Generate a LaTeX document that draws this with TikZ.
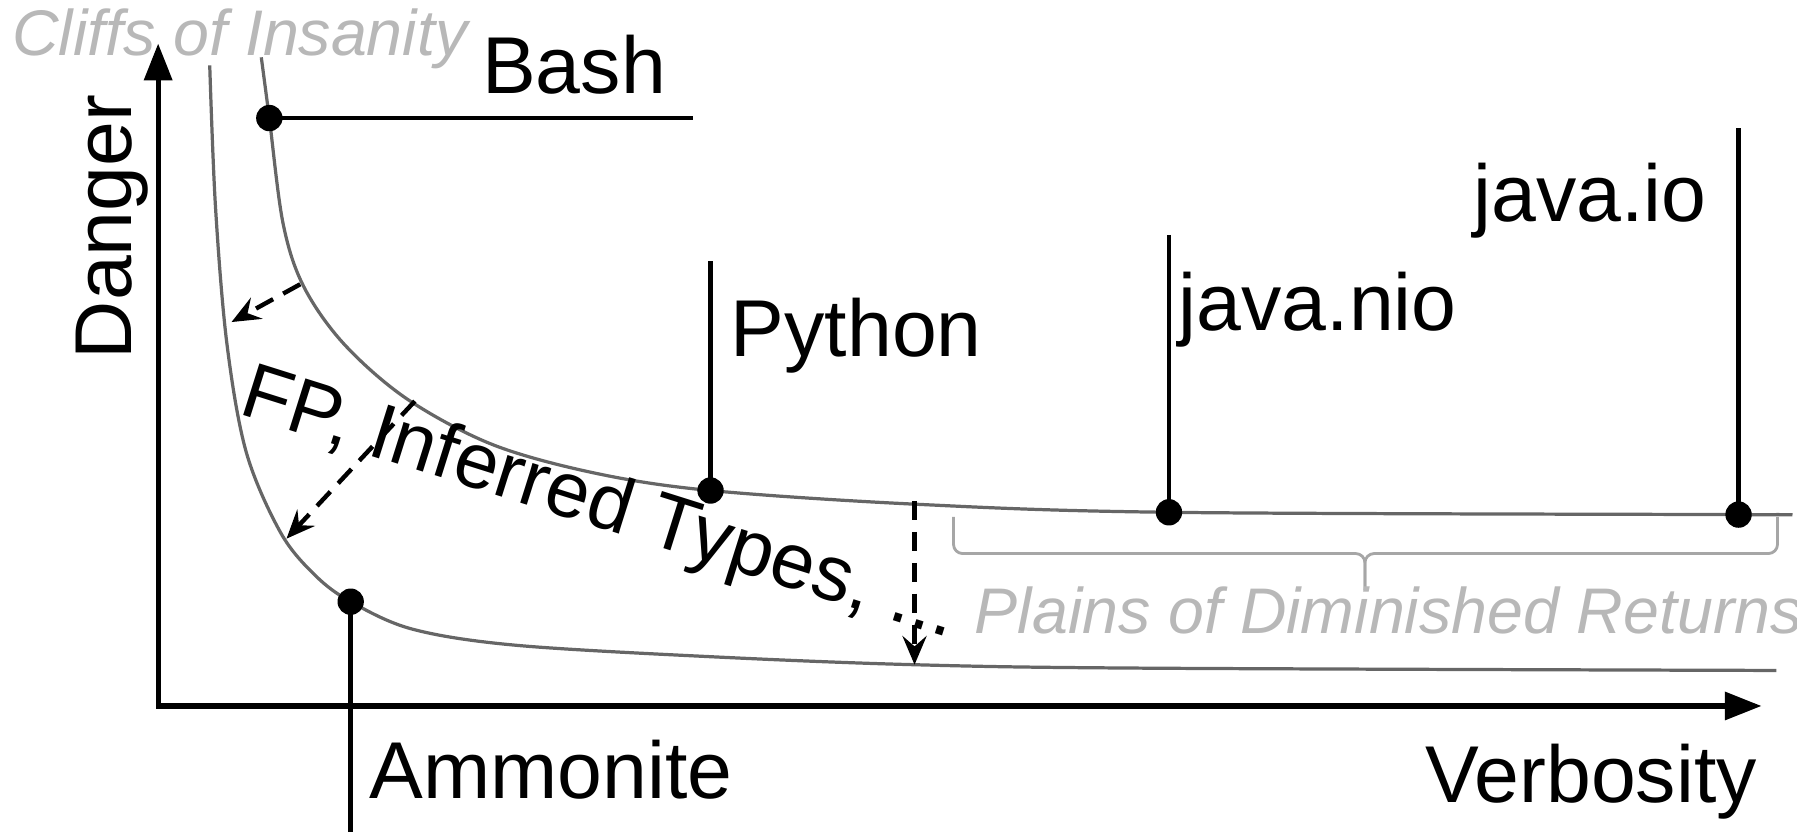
\documentclass[tikz,border=0pt]{standalone}
\usepackage{fontspec}
\setmainfont{Liberation Sans}
\usetikzlibrary{arrows.meta}

\begin{document}
\begin{tikzpicture}[>={Stealth[length=2.5mm,width=2.1mm,inset=0.9mm]}, x=0.01cm, y=-0.01cm,
	lbl/.style={inner sep=0pt, anchor=base west, font=\fontsize{20}{24}\selectfont},
	zone/.style={inner sep=0pt, anchor=base west, text=zoneg, font=\fontsize{16}{19}\selectfont\itshape},
	curv/.style={draw=curveg, line width=0.8pt},
	pin/.style={line width=1.2pt},
	push/.style={->, line width=1.1pt, dash pattern=on 1.7mm off 1mm},
	bracey/.style={draw=braceg, line width=0.7pt, rounded corners=0.8mm}]
			\definecolor{curveg}{rgb}{0.4,0.4,0.4}
			\definecolor{zoneg}{rgb}{0.72,0.72,0.72}
			\definecolor{braceg}{rgb}{0.65,0.65,0.65}

			\useasboundingbox (0,0) rectangle (1568,726);

			\coordinate (bash) at (235,103);
			\coordinate (python) at (620,428);
			\coordinate (nio) at (1020,447);
			\coordinate (io) at (1517,449);
			\coordinate (amm) at (306,525);
			\coordinate (origin) at (138,616);
			\coordinate (ytop) at (138,38);
			\coordinate (xend) at (1537,616);

			\draw[curv] plot[smooth, tension=0.55] coordinates {(228,50) (bash) (247,195) (265,250) (300,300) (355,348) (430,388) (520,413) (python) (800,440) (nio) (io) (1550,449)};
			\draw[curv] plot[smooth, tension=0.55] coordinates {(183,57) (188,180) (198,300) (215,395) (245,465) (275,502) (amm) (360,549) (450,563) (620,573) (798,580) (1000,583) (1550,585)};

			\draw[line width=1.25pt, line join=miter, {Triangle[length=3.2mm,width=2.4mm]}-{Triangle[length=3.2mm,width=2.4mm]}] (ytop) -- (origin) -- (xend);

			\coordinate (bashend) at (605,103);
			\coordinate (pytop) at (620,228);
			\coordinate (niotop) at (1020,205);
			\coordinate (iotop) at (1517,112);
			\coordinate (ammbot) at (306,726);
			\draw[pin] (bash) -- (bashend);
			\draw[pin] (pytop) -- (python);
			\draw[pin] (niotop) -- (nio);
			\draw[pin] (iotop) -- (io);
			\draw[pin] (amm) -- (ammbot);

			\foreach \p in {bash,python,nio,io,amm}{
					\fill (\p) circle (1.15mm);
				}

			\coordinate (c1a) at (262,248);
			\coordinate (c1b) at (202,281);
			\coordinate (c2a) at (362,350);
			\coordinate (c2b) at (250,470);
			\coordinate (c3a) at (798,437);
			\coordinate (c3b) at (798,580);
			\foreach \a/\b in {c1a/c1b,c2a/c2b,c3a/c3b}{
					\draw[push] (\a) -- (\b);
				}

			\coordinate (braceL) at (832,451);
			\coordinate (braceR) at (1551,451);
			\coordinate (bracemid) at (1191,483);
			\coordinate (bracetip) at (1191,515);
			\draw[bracey] (braceL) |- (bracemid) -- (bracetip);
			\draw[bracey] (braceR) |- (bracemid) -- (bracetip);

			\node[lbl] (bashl) at (420,82) {Bash};
			\node[lbl] (pyl) at (637,311) {Python};
			\node[lbl] (niol) at (1028,288) {java.nio};
			\node[lbl] (iol) at (1285,193) {java.io};
			\node[lbl] (amml) at (322,697) {Ammonite};
			\node[lbl] (verb) at (1243,700) {Verbosity};
			\node[lbl, rotate=90, anchor=base] (dang) at (115,198) {Danger};
			\node[lbl, rotate=-17.5, font=\fontsize{19.5}{23}\selectfont] (fp) at (207,361) {FP, Inferred Types, ...};
			\node[zone] (cliffs) at (10,48) {Cliffs of Insanity};
			\node[zone] (plains) at (850,553) {Plains of Diminished Returns};
\end{tikzpicture}
\end{document}
